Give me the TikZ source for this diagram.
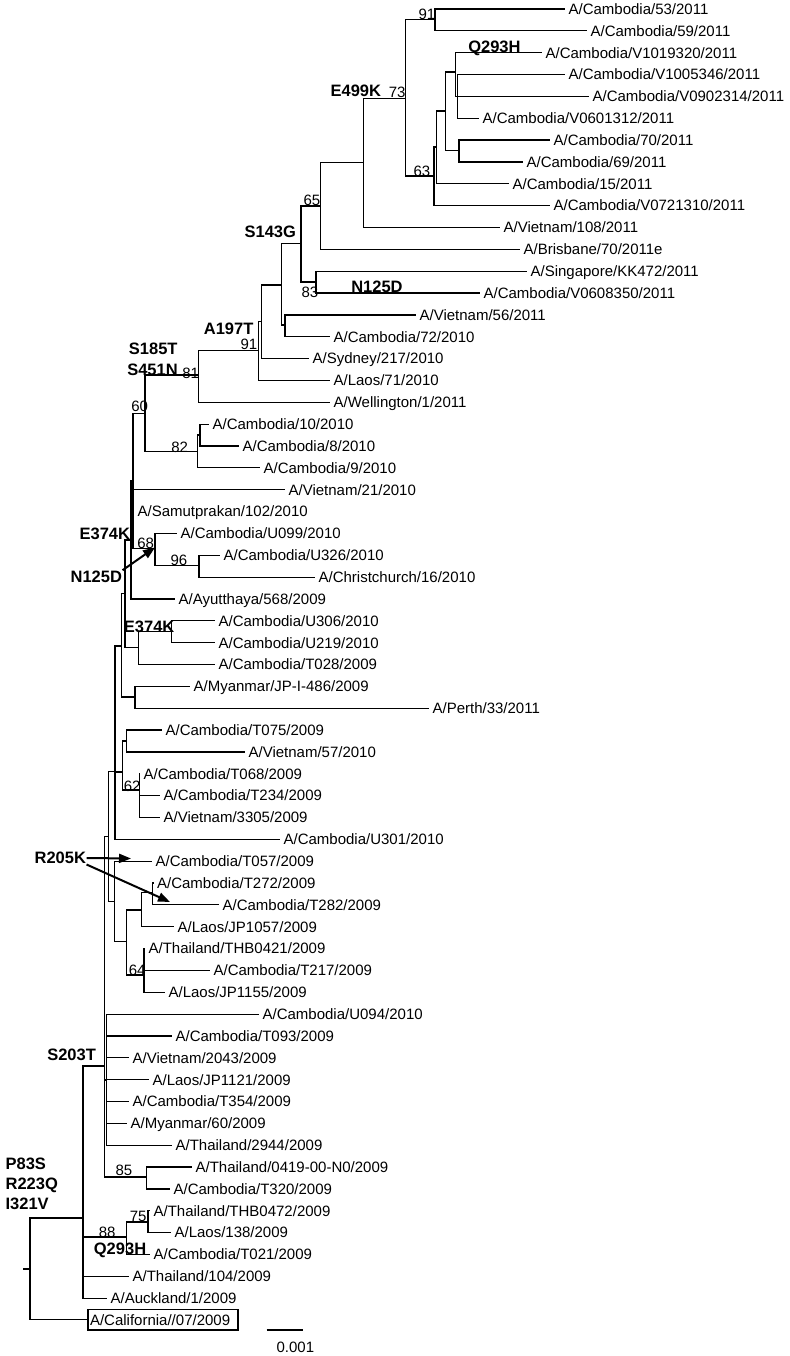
\documentclass[tikz,border=0pt]{standalone}
\usepackage{fontspec}
\setmainfont{Liberation Sans}
\usetikzlibrary{arrows.meta}
\tikzset{
 leaf/.style={anchor=west, inner xsep=3pt, inner ysep=0pt, font=\fontsize{15}{18}\selectfont, text height=10.7pt, text depth=0pt},
 mut/.style={anchor=west, inner sep=0pt, font=\fontsize{16.5}{19}\selectfont\bfseries, text height=11.8pt, text depth=0pt},
 bs/.style={anchor=west, inner sep=0pt, font=\fontsize{15}{18}\selectfont, text height=10.7pt, text depth=0pt},
 marr/.style={line width=2pt, -{Triangle[length=12pt,width=9pt]}},
 calbox/.style={leaf, draw, line width=1.5pt, inner xsep=2pt, text width=146pt, align=left, minimum height=20.7pt}
}
\begin{document}
\begin{tikzpicture}[x=1pt,y=-1pt,line width=1.2pt]
\useasboundingbox (0,0) rectangle (789,1356);
% leaves
\node[leaf] (l1) at (565,9.00) {A/Cambodia/53/2011};
\node[leaf] (l2) at (587,30.85) {A/Cambodia/59/2011};
\node[leaf] (l3) at (542,52.70) {A/Cambodia/V1019320/2011};
\node[leaf] (l4) at (565,74.55) {A/Cambodia/V1005346/2011};
\node[leaf] (l5) at (589,96.40) {A/Cambodia/V0902314/2011};
\node[leaf] (l6) at (479,118.25) {A/Cambodia/V0601312/2011};
\node[leaf] (l7) at (550,140.10) {A/Cambodia/70/2011};
\node[leaf] (l8) at (523,161.95) {A/Cambodia/69/2011};
\node[leaf] (l9) at (509,183.80) {A/Cambodia/15/2011};
\node[leaf] (l10) at (550,205.65) {A/Cambodia/V0721310/2011};
\node[leaf] (l11) at (500,227.50) {A/Vietnam/108/2011};
\node[leaf] (l12) at (520,249.35) {A/Brisbane/70/2011e};
\node[leaf] (l13) at (527,271.20) {A/Singapore/KK472/2011};
\node[leaf] (l14) at (480,293.05) {A/Cambodia/V0608350/2011};
\node[leaf] (l15) at (416,314.90) {A/Vietnam/56/2011};
\node[leaf] (l16) at (330,336.75) {A/Cambodia/72/2010};
\node[leaf] (l17) at (309,358.60) {A/Sydney/217/2010};
\node[leaf] (l18) at (330,380.45) {A/Laos/71/2010};
\node[leaf] (l19) at (330,402.30) {A/Wellington/1/2011};
\node[leaf] (l20) at (209,424.15) {A/Cambodia/10/2010};
\node[leaf] (l21) at (239,446.00) {A/Cambodia/8/2010};
\node[leaf] (l22) at (260,467.85) {A/Cambodia/9/2010};
\node[leaf] (l23) at (285,489.70) {A/Vietnam/21/2010};
\node[leaf] (l24) at (134,511.55) {A/Samutprakan/102/2010};
\node[leaf] (l25) at (177,533.40) {A/Cambodia/U099/2010};
\node[leaf] (l26) at (220,555.25) {A/Cambodia/U326/2010};
\node[leaf] (l27) at (315,577.10) {A/Christchurch/16/2010};
\node[leaf] (l28) at (175,598.95) {A/Ayutthaya/568/2009};
\node[leaf] (l29) at (215,620.80) {A/Cambodia/U306/2010};
\node[leaf] (l30) at (215,642.65) {A/Cambodia/U219/2010};
\node[leaf] (l31) at (215,664.50) {A/Cambodia/T028/2009};
\node[leaf] (l32) at (190,686.35) {A/Myanmar/JP-I-486/2009};
\node[leaf] (l33) at (429,708.20) {A/Perth/33/2011};
\node[leaf] (l34) at (162,730.05) {A/Cambodia/T075/2009};
\node[leaf] (l35) at (245,751.90) {A/Vietnam/57/2010};
\node[leaf] (l36) at (140,773.75) {A/Cambodia/T068/2009};
\node[leaf] (l37) at (160,795.60) {A/Cambodia/T234/2009};
\node[leaf] (l38) at (160,817.45) {A/Vietnam/3305/2009};
\node[leaf] (l39) at (280,839.30) {A/Cambodia/U301/2010};
\node[leaf] (l40) at (152,861.15) {A/Cambodia/T057/2009};
\node[leaf] (l41) at (153.5,883.00) {A/Cambodia/T272/2009};
\node[leaf] (l42) at (219,904.85) {A/Cambodia/T282/2009};
\node[leaf] (l43) at (174,926.70) {A/Laos/JP1057/2009};
\node[leaf] (l44) at (145,948.55) {A/Thailand/THB0421/2009};
\node[leaf] (l45) at (210,970.40) {A/Cambodia/T217/2009};
\node[leaf] (l46) at (165,992.25) {A/Laos/JP1155/2009};
\node[leaf] (l47) at (259,1014.10) {A/Cambodia/U094/2010};
\node[leaf] (l48) at (172,1035.95) {A/Cambodia/T093/2009};
\node[leaf] (l49) at (129,1057.80) {A/Vietnam/2043/2009};
\node[leaf] (l50) at (149,1079.65) {A/Laos/JP1121/2009};
\node[leaf] (l51) at (129,1101.50) {A/Cambodia/T354/2009};
\node[leaf] (l52) at (127,1123.35) {A/Myanmar/60/2009};
\node[leaf] (l53) at (172,1145.20) {A/Thailand/2944/2009};
\node[leaf] (l54) at (192,1167.05) {A/Thailand/0419-00-N0/2009};
\node[leaf] (l55) at (170,1188.90) {A/Cambodia/T320/2009};
\node[leaf] (l56) at (150,1210.75) {A/Thailand/THB0472/2009};
\node[leaf] (l57) at (171,1232.60) {A/Laos/138/2009};
\node[leaf] (l58) at (150,1254.45) {A/Cambodia/T021/2009};
\node[leaf] (l59) at (129,1276.30) {A/Thailand/104/2009};
\node[leaf] (l60) at (107,1298.15) {A/Auckland/1/2009};
\node[calbox] (cal) at (87.3,1319.7) {A/California//07/2009};
% internal nodes
\coordinate (stub) at (23,1269);
\coordinate (root) at (30,1269);
\coordinate (A) at (83,1218);
\coordinate (S203) at (104.5,1066);
\coordinate (S2) at (106.3,1080);
\coordinate (n85) at (146.7,1177);
\coordinate (n88) at (126.7,1237);
\coordinate (n75) at (148,1222);
\coordinate (J) at (108.3,836.7);
\coordinate (K) at (114.3,901.7);
\coordinate (L) at (126.7,941.7);
\coordinate (H) at (141.7,910);
\coordinate (TT) at (152.7,892.7);
\coordinate (n64) at (144,975);
\coordinate (M) at (115,771.7);
\coordinate (X) at (122.5,772);
\coordinate (TV) at (126.7,741);
\coordinate (n62) at (139.3,790);
\coordinate (N1) at (121.7,646);
\coordinate (My) at (135,697);
\coordinate (N2) at (125,593.6);
\coordinate (E3) at (138.3,647.3);
\coordinate (E3a) at (171.7,631.7);
\coordinate (P1) at (131,540);
\coordinate (P2) at (133,480.6);
\coordinate (n68) at (155,548.3);
\coordinate (n96) at (199,565.7);
\coordinate (n60) at (145,413.3);
\coordinate (n82) at (197.5,451.7);
\coordinate (n82a) at (200,435);
\coordinate (n81) at (198.3,375);
\coordinate (n91b) at (258.3,350.7);
\coordinate (Y) at (261.7,321.7);
\coordinate (Z) at (281.7,285);
\coordinate (V) at (285,325);
\coordinate (W) at (301,243.3);
\coordinate (n83) at (316,282);
\coordinate (n65) at (320.7,206);
\coordinate (E499) at (363.3,162.3);
\coordinate (n73) at (405.7,98.3);
\coordinate (n91a) at (435,19.3);
\coordinate (n63) at (434,176);
\coordinate (S) at (436.7,147);
\coordinate (T) at (445.7,111);
\coordinate (Q) at (455.7,72);
\coordinate (R) at (457.3,96.4);
\coordinate (U) at (459,150.5);
% branches
\draw (stub) -- (root);
\foreach \p/\c in {root/A, root/cal.west,
  A/S203, A/n88, A/l59.west, A/l60.west,
  S203/J, S203/S2, S203/n85,
  S2/l47.west, S2/l48.west, S2/l49.west, S2/l50.west, S2/l51.west, S2/l52.west, S2/l53.west,
  n85/l54.west, n85/l55.west, n88/n75, n88/l58.west, n75/l56.west, n75/l57.west,
  J/M, J/K, K/l40.west, K/L, L/H, L/n64, H/TT, H/l43.west, TT/l41.west, TT/l42.west,
  n64/l44.west, n64/l45.west, n64/l46.west,
  M/N1, M/X, M/l39.west, X/TV, X/n62, TV/l34.west, TV/l35.west,
  n62/l36.west, n62/l37.west, n62/l38.west,
  N1/N2, N1/My, My/l32.west, My/l33.west, N2/P1, N2/E3, E3/E3a, E3/l31.west,
  E3a/l29.west, E3a/l30.west, P1/P2, P1/l28.west,
  P2/n60, P2/l23.west, P2/l24.west, P2/n68, n68/l25.west, n68/n96, n96/l26.west, n96/l27.west,
  n60/n81, n60/n82, n82/n82a, n82/l22.west, n82a/l20.west, n82a/l21.west,
  n81/n91b, n81/l19.west, n91b/Y, n91b/l18.west, Y/Z, Y/l17.west, Z/W, Z/V,
  V/l15.west, V/l16.west, W/n65, W/n83, n83/l13.west, n83/l14.west,
  n65/E499, n65/l12.west, E499/n73, E499/l11.west, n73/n91a, n73/n63,
  n91a/l1.west, n91a/l2.west, n63/S, n63/l10.west, S/T, S/l9.west, T/Q, T/U,
  Q/l3.west, Q/R, R/l4.west, R/l5.west, R/l6.west, U/l7.west, U/l8.west}
  {\draw (\p) |- (\c);}
% mutation labels
\node[mut] at (467.7,46.7) {Q293H};
\node[mut] at (330,91) {E499K};
\node[mut] at (244,231.7) {S143G};
\node[mut] at (350.7,286.7) {N125D};
\node[mut] at (203.3,328.3) {A197T};
\node[mut] at (128.3,348.3) {S185T};
\node[mut] at (126.7,369.3) {S451N};
\node[mut] at (79,533.3) {E374K};
\node[mut] (n125low) at (70,576.7) {N125D};
\node[mut] at (123.3,626.7) {E374K};
\node[mut] (r205) at (34,858) {R205K};
\node[mut] at (46.7,1055) {S203T};
\node[mut] at (5,1163.3) {P83S};
\node[mut] at (5,1183.3) {R223Q};
\node[mut] at (5,1204) {I321V};
\node[mut] at (93.3,1248.3) {Q293H};
% bootstrap labels
\node[bs] at (418,14) {91};
\node[bs] at (388.3,92) {73};
\node[bs] at (413,170.7) {63};
\node[bs] at (303,200) {65};
\node[bs] at (301,292.3) {83};
\node[bs] at (240,344.3) {91};
\node[bs] at (181.7,373.3) {81};
\node[bs] at (130.7,406) {60};
\node[bs] at (170.7,446.7) {82};
\node[bs] at (136.7,543.3) {68};
\node[bs] at (170,560) {96};
\node[bs] at (123.3,786) {62};
\node[bs] at (128.3,970) {64};
\node[bs] at (115,1170) {85};
\node[bs] at (98.3,1231.7) {88};
\node[bs] at (129.3,1216) {75};
% arrows
\coordinate (a1e) at (155,547.5);
\coordinate (a2e) at (131,858.5);
\coordinate (a3e) at (170,902);
\draw[marr] (n125low.north east) -- (a1e);
\draw[marr] (r205.east) -- (a2e);
\draw[marr] (r205.south east) -- (a3e);
% scale bar
\coordinate (sbA) at (266.7,1330);
\coordinate (sbB) at (303.3,1330);
\draw (sbA) -- (sbB);
\node[bs] (sbl) at (276,1346.7) {0.001};
\end{tikzpicture}
\end{document}
